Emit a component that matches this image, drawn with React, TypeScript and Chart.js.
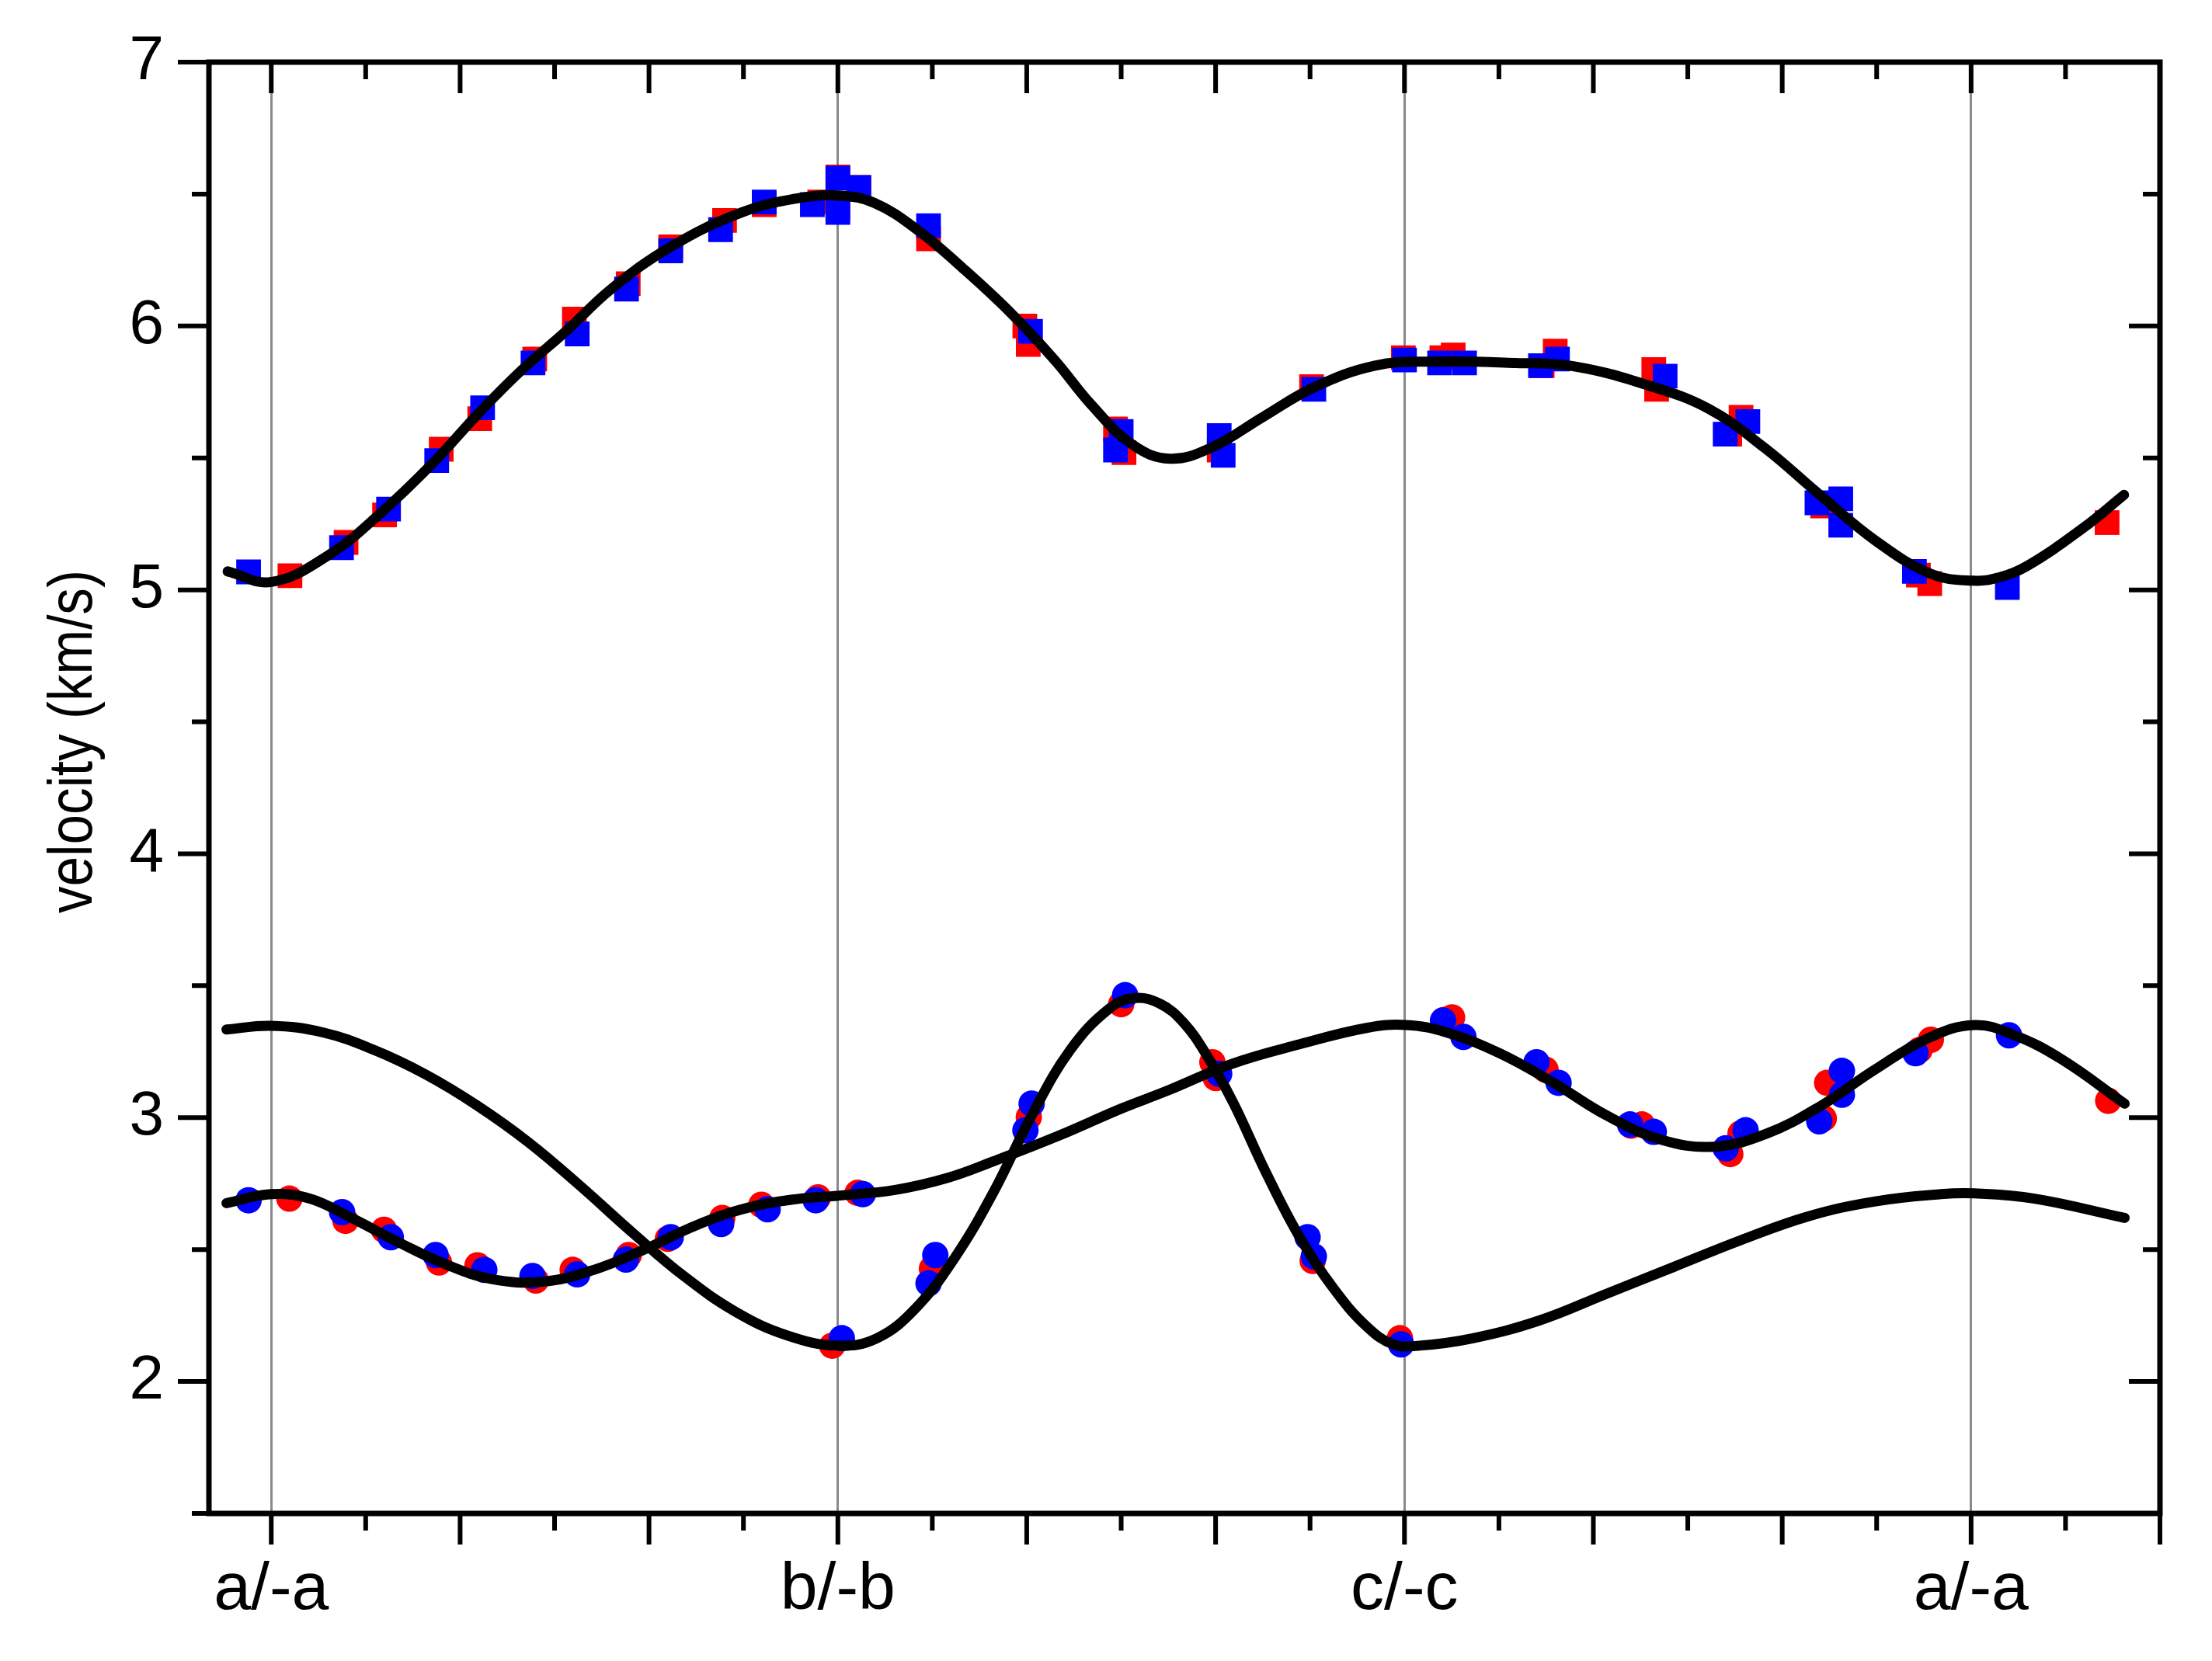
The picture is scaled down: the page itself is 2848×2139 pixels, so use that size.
import { useEffect, useRef } from 'react';
import { Chart, registerables } from 'chart.js';

Chart.register(...registerables);

// ---------- axis definitions ----------
const X_MIN = -0.11;
const X_MAX = 10 / 3;
const Y_MIN = 1.5;
const Y_MAX = 7;
const xTickPositions = [0, 1, 2, 3];
const xTickLabels = ['a/-a', 'b/-b', 'c/-c', 'a/-a'];
const xMinorStep = 1 / 6;
const yStep = 0.5;
const yTitle = 'velocity (km/s)';

// ---------- fitted curves (black lines) ----------
const upperCurveX = [-0.077, 0.0, 0.1, 0.19, 0.285, 0.364, 0.443, 0.52, 0.6, 0.705, 0.83, 0.932, 1.003, 1.065, 1.143, 1.22, 1.305, 1.383, 1.448, 1.52, 1.586, 1.66, 1.75, 1.84, 1.948, 2.05, 2.197, 2.3, 2.43, 2.537, 2.635, 2.733, 2.831, 2.929, 3.003, 3.051, 3.1, 3.198, 3.27];
const upperCurveY = [5.07, 5.03, 5.13, 5.285, 5.48, 5.665, 5.835, 5.98, 6.14, 6.3, 6.43, 6.485, 6.494, 6.466, 6.36, 6.22, 6.05, 5.87, 5.7, 5.55, 5.497, 5.54, 5.655, 5.767, 5.85, 5.865, 5.86, 5.847, 5.775, 5.686, 5.539, 5.36, 5.187, 5.061, 5.035, 5.048, 5.092, 5.235, 5.36];

const curveAX = [-0.079, 0.0, 0.068, 0.137, 0.228, 0.307, 0.387, 0.478, 0.569, 0.66, 0.75, 0.842, 0.933, 1.0, 1.103, 1.194, 1.274, 1.388, 1.501, 1.579, 1.697, 1.815, 1.933, 2.003, 2.074, 2.168, 2.263, 2.357, 2.451, 2.546, 2.64, 2.735, 2.829, 2.923, 3.006, 3.077, 3.159, 3.271];
const curveAY = [2.676, 2.71, 2.693, 2.625, 2.524, 2.445, 2.389, 2.378, 2.423, 2.502, 2.592, 2.659, 2.693, 2.704, 2.727, 2.772, 2.834, 2.93, 3.035, 3.1, 3.205, 3.278, 3.34, 3.351, 3.323, 3.244, 3.132, 3.008, 2.918, 2.89, 2.94, 3.045, 3.18, 3.3, 3.351, 3.312, 3.222, 3.053];

const curveBX = [-0.079, 0.0, 0.091, 0.182, 0.273, 0.364, 0.455, 0.546, 0.637, 0.728, 0.819, 0.91, 1.0, 1.069, 1.137, 1.206, 1.274, 1.342, 1.41, 1.479, 1.524, 1.57, 1.61, 1.65, 1.697, 1.756, 1.815, 1.874, 1.933, 1.98, 2.027, 2.121, 2.239, 2.357, 2.475, 2.593, 2.711, 2.829, 2.947, 3.006, 3.112, 3.271];
const curveBY = [3.334, 3.348, 3.323, 3.256, 3.163, 3.045, 2.905, 2.74, 2.565, 2.4, 2.265, 2.175, 2.136, 2.164, 2.277, 2.468, 2.715, 3.008, 3.256, 3.413, 3.453, 3.43, 3.36, 3.24, 3.06, 2.79, 2.547, 2.355, 2.209, 2.141, 2.136, 2.164, 2.232, 2.333, 2.434, 2.535, 2.625, 2.682, 2.71, 2.713, 2.693, 2.62];

// ---------- measured points: squares (upper branch) ----------
const redSquareX = [0.033, 0.132, 0.2, 0.3, 0.368, 0.465, 0.535, 0.63, 0.705, 0.8, 0.87, 0.968, 1.0, 1.0, 1.037, 1.16, 1.33, 1.336, 1.49, 1.505, 1.673, 1.836, 1.998, 2.066, 2.086, 2.243, 2.266, 2.44, 2.445, 2.594, 2.574, 2.738, 2.907, 2.927, 3.24];
const redSquareY = [5.054, 5.18, 5.284, 5.533, 5.649, 5.875, 6.026, 6.16, 6.3, 6.4, 6.46, 6.47, 6.565, 6.444, 6.525, 6.33, 6.0, 5.93, 5.61, 5.52, 5.53, 5.77, 5.88, 5.88, 5.89, 5.85, 5.905, 5.835, 5.76, 5.654, 5.59, 5.318, 5.056, 5.024, 5.255];
const blueSquareX = [-0.04, 0.124, 0.207, 0.292, 0.373, 0.462, 0.54, 0.627, 0.705, 0.793, 0.87, 0.955, 1.0, 1.0, 1.037, 1.16, 1.34, 1.5, 1.49, 1.673, 1.68, 1.84, 2.0, 2.062, 2.106, 2.24, 2.27, 2.46, 2.606, 2.566, 2.728, 2.77, 2.77, 2.9, 3.064];
const blueSquareY = [5.068, 5.16, 5.306, 5.49, 5.69, 5.86, 5.97, 6.14, 6.285, 6.365, 6.47, 6.46, 6.56, 6.43, 6.525, 6.38, 5.98, 5.6, 5.53, 5.585, 5.51, 5.76, 5.871, 5.86, 5.86, 5.85, 5.875, 5.81, 5.638, 5.59, 5.33, 5.345, 5.245, 5.07, 5.009];

// ---------- measured points: circles (lower branches) ----------
const redCircleX = [0.032, 0.131, 0.199, 0.296, 0.364, 0.467, 0.532, 0.631, 0.7, 0.796, 0.865, 0.965, 1.035, 0.99, 1.166, 1.337, 1.5, 1.661, 1.667, 1.838, 1.992, 2.07, 2.084, 2.249, 2.4, 2.419, 2.575, 2.593, 2.74, 2.746, 2.909, 2.929, 3.242];
const redCircleY = [2.693, 2.609, 2.575, 2.451, 2.44, 2.383, 2.423, 2.479, 2.541, 2.62, 2.67, 2.698, 2.715, 2.136, 2.428, 3.002, 3.43, 3.21, 3.15, 2.457, 2.164, 3.37, 3.38, 3.182, 2.97, 2.974, 2.862, 2.94, 2.997, 3.132, 3.256, 3.295, 3.064];
const blueCircleX = [-0.04, 0.125, 0.211, 0.29, 0.376, 0.461, 0.54, 0.626, 0.705, 0.794, 0.876, 0.961, 1.044, 1.007, 1.172, 1.16, 1.342, 1.331, 1.507, 1.673, 1.829, 1.84, 1.994, 2.068, 2.104, 2.233, 2.272, 2.398, 2.44, 2.567, 2.602, 2.732, 2.772, 2.772, 2.902, 3.067];
const blueCircleY = [2.687, 2.642, 2.547, 2.479, 2.423, 2.4, 2.406, 2.462, 2.547, 2.597, 2.653, 2.687, 2.71, 2.164, 2.479, 2.372, 3.053, 2.952, 3.464, 3.166, 2.547, 2.474, 2.141, 3.368, 3.306, 3.21, 3.132, 2.974, 2.946, 2.884, 2.952, 2.986, 3.177, 3.087, 3.244, 3.312];

const FONT = "'Liberation Sans', Arial, Helvetica, sans-serif";

const zip = (xs: number[], ys: number[]) => xs.map((x, i) => ({ x, y: ys[i] }));

const near = (a: number, b: number) => Math.abs(a - b) < 1e-6;

const framePlugin = {
  id: 'originFrame',
  afterDraw(chart: any) {
    const { ctx, chartArea: a, scales } = chart;
    const xs = scales.x;
    const ys = scales.y;
    ctx.save();
    ctx.strokeStyle = '#000';
    ctx.lineWidth = 7;
    ctx.lineJoin = 'miter';
    ctx.strokeRect(a.left, a.top, a.right - a.left, a.bottom - a.top);

    ctx.lineWidth = 6;
    ctx.lineCap = 'butt';
    ctx.beginPath();
    xs.ticks.forEach((t: any) => {
      const px = xs.getPixelForValue(t.value);
      const major = Math.round(t.value / xMinorStep) % 2 === 0;
      const len = major ? 40 : 22;
      ctx.moveTo(px, a.bottom);
      ctx.lineTo(px, a.bottom + len);
      ctx.moveTo(px, a.top);
      ctx.lineTo(px, a.top + len);
    });
    ys.ticks.forEach((t: any) => {
      const py = ys.getPixelForValue(t.value);
      const major = near(t.value, Math.round(t.value));
      const len = major ? 40 : 22;
      ctx.moveTo(a.left, py);
      ctx.lineTo(a.left - len, py);
      ctx.moveTo(a.right, py);
      ctx.lineTo(a.right - len, py);
    });
    ctx.stroke();

    // y axis title (rotated)
    ctx.font = `80px ${FONT}`;
    ctx.fillStyle = '#000';
    ctx.textAlign = 'center';
    ctx.textBaseline = 'middle';
    const w = ctx.measureText(yTitle).width;
    const sx = 442 / w;
    ctx.translate(96, 955);
    ctx.rotate(-Math.PI / 2);
    ctx.scale(sx, 1);
    ctx.fillText(yTitle, 0, 0);
    ctx.restore();
  },
};

export default function App() {
  const ref = useRef<HTMLCanvasElement>(null);

  useEffect(() => {
    const xTicks: number[] = [];
    for (let k = 0; k * xMinorStep <= X_MAX + 1e-9; k++) xTicks.push(k * xMinorStep);
    const yTicks: number[] = [];
    for (let v = Y_MIN; v <= Y_MAX + 1e-9; v += yStep) yTicks.push(v);

    const curve = (xsArr: number[], ysArr: number[]) => ({
      data: zip(xsArr, ysArr),
      showLine: true,
      borderColor: '#000',
      borderWidth: 13,
      borderCapStyle: 'round',
      borderJoinStyle: 'round',
      tension: 0.4,
      pointRadius: 0,
      pointHoverRadius: 0,
      order: 0,
    });
    const markers = (xsArr: number[], ysArr: number[], color: string, style: string, r: number, order: number) => ({
      data: zip(xsArr, ysArr),
      showLine: false,
      pointStyle: style,
      pointRadius: r,
      pointHoverRadius: r,
      pointBackgroundColor: color,
      pointBorderColor: color,
      pointBorderWidth: 0,
      backgroundColor: color,
      borderColor: color,
      order,
    });

    const noPad = (s: any) => {
      s.paddingTop = 0;
      s.paddingBottom = 0;
      s.paddingLeft = 0;
      s.paddingRight = 0;
    };

    const chart = new Chart(ref.current as HTMLCanvasElement, {
      type: 'scatter',
      data: {
        datasets: [
          curve(upperCurveX, upperCurveY),
          curve(curveAX, curveAY),
          curve(curveBX, curveBY),
          markers(redSquareX, redSquareY, '#ff0000', 'rect', 22.5, 2),
          markers(blueSquareX, blueSquareY, '#0000ff', 'rect', 22.5, 1),
          markers(redCircleX, redCircleY, '#ff0000', 'circle', 17, 2),
          markers(blueCircleX, blueCircleY, '#0000ff', 'circle', 17, 1),
        ] as any,
      },
      options: {
        responsive: false,
        devicePixelRatio: 1,
        animation: false,
        events: [],
        layout: { padding: { left: 0, top: 80, right: 67, bottom: 0 } },
        plugins: { legend: { display: false }, tooltip: { enabled: false } },
        scales: {
          x: {
            type: 'linear',
            position: 'bottom',
            min: X_MIN,
            max: X_MAX,
            afterBuildTicks: (s: any) => {
              s.ticks = xTicks.map((v) => ({ value: v }));
            },
            afterFit: (s: any) => {
              s.height = 190;
              noPad(s);
            },
            ticks: {
              autoSkip: false,
              maxRotation: 0,
              minRotation: 0,
              padding: 48,
              color: '#000',
              font: { family: FONT, size: 86 },
              callback: (v: any) => {
                const i = xTickPositions.findIndex((p) => near(p, Number(v)));
                return i >= 0 ? xTickLabels[i] : '';
              },
            },
            grid: {
              drawTicks: false,
              drawOnChartArea: true,
              lineWidth: 3,
              color: (c: any) => {
                const v = c.tick ? c.tick.value : NaN;
                return xTickPositions.some((p) => near(p, v)) ? '#8a8a8a' : 'rgba(0,0,0,0)';
              },
            },
            border: { display: false },
          },
          y: {
            type: 'linear',
            position: 'left',
            min: Y_MIN,
            max: Y_MAX,
            afterBuildTicks: (s: any) => {
              s.ticks = yTicks.map((v) => ({ value: v }));
            },
            afterFit: (s: any) => {
              s.width = 269;
              noPad(s);
            },
            ticks: {
              autoSkip: false,
              padding: 58,
              color: '#000',
              font: { family: FONT, size: 80 },
              callback: (v: any) => (near(Number(v), Math.round(Number(v))) ? String(Math.round(Number(v))) : ''),
            },
            grid: { display: false, drawTicks: false },
            border: { display: false },
          },
        },
      } as any,
      plugins: [framePlugin],
    });
    return () => chart.destroy();
  }, []);

  return (
    <div style={{ position: 'absolute', left: 0, top: 0, width: 2848, height: 2139, background: '#fff' }}>
      <canvas ref={ref} width={2848} height={2139} style={{ display: 'block', width: 2848, height: 2139 }} />
    </div>
  );
}
